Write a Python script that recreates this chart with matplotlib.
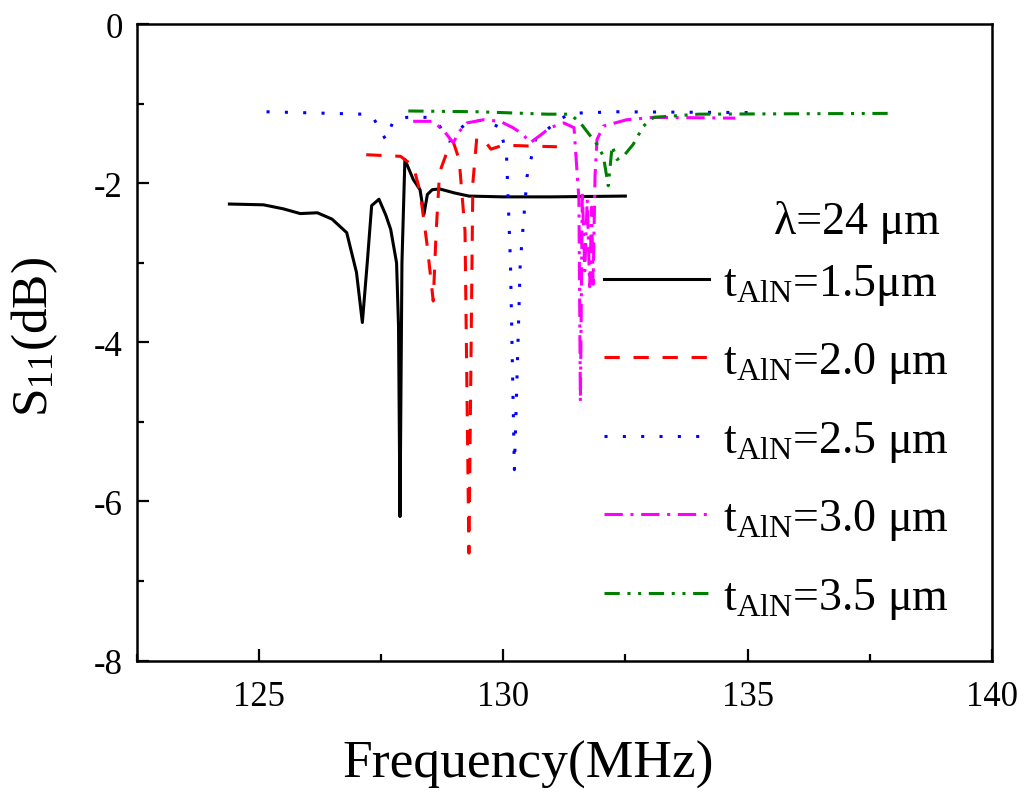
import matplotlib
matplotlib.use("Agg")
import matplotlib.pyplot as plt
from matplotlib.ticker import MultipleLocator

plt.rcParams['font.family'] = ['Liberation Serif', 'DejaVu Serif']
plt.rcParams['mathtext.fontset'] = 'custom'
plt.rcParams['mathtext.rm'] = 'Liberation Serif'
plt.rcParams['mathtext.it'] = 'Liberation Serif:italic'
plt.rcParams['mathtext.bf'] = 'Liberation Serif:bold'
plt.rcParams['axes.unicode_minus'] = False

# ---- data ----
black_f = [124.4, 125.1, 125.5, 125.85, 126.2, 126.5, 126.8, 127.0, 127.12, 127.22, 127.31,
           127.46, 127.6, 127.7, 127.82, 127.86, 127.89, 127.93, 127.99, 128.16, 128.3, 128.38,
           128.45, 128.55, 128.7, 129.0, 129.3, 130.0, 131.0, 132.5]
black_s = [-2.26, -2.27, -2.32, -2.38, -2.37, -2.45, -2.62, -3.12, -3.75, -3.0, -2.28,
           -2.20, -2.40, -2.58, -3.0, -3.8, -6.19, -3.0, -1.70, -1.95, -2.08, -2.39,
           -2.14, -2.08, -2.07, -2.12, -2.16, -2.17, -2.17, -2.16]

red_f = [127.2, 127.9, 128.16, 128.3, 128.45, 128.57, 128.63, 128.7, 128.85, 128.98, 129.1,
         129.22, 129.3, 129.38, 129.46, 129.6, 129.75, 130.0, 130.5, 131.1]
red_s = [-1.64, -1.66, -1.78, -2.1, -2.8, -3.48, -2.6, -1.86, -1.61, -1.48, -1.7,
         -2.6, -6.65, -2.0, -1.43, -1.45, -1.57, -1.52, -1.53, -1.54]

blue_f = [125.16, 127.13, 127.34, 127.5, 127.6, 127.75, 128.03, 128.44, 128.7, 128.9, 129.05,
          129.26, 129.6, 129.94, 130.07, 130.15, 130.23, 130.35, 130.49, 130.66, 131.1, 131.37,
          132.3, 135.0]
blue_s = [-1.10, -1.13, -1.17, -1.35, -1.45, -1.22, -1.17, -1.17, -1.28, -1.47, -1.35,
          -1.24, -1.20, -1.30, -1.66, -3.0, -5.6, -3.0, -1.91, -1.45, -1.22, -1.12,
          -1.10, -1.11]

mag_f = [128.16, 128.57, 128.8, 128.98, 129.1, 129.26, 129.6, 129.94, 130.2, 130.4, 130.55,
         130.75, 130.96, 131.24, 131.45, 131.55, 131.58, 131.62, 131.67, 131.72, 131.77, 131.81,
         131.84, 131.88, 131.92, 132.05, 132.53, 133.08, 134.75]
mag_s = [-1.22, -1.22, -1.35, -1.49, -1.35, -1.24, -1.20, -1.22, -1.30, -1.38, -1.49,
         -1.40, -1.30, -1.24, -1.30, -2.2, -4.75, -2.1, -3.1, -2.2, -3.3, -2.3,
         -3.27, -1.9, -1.45, -1.28, -1.20, -1.17, -1.18]

green_f = [128.06, 129.5, 130.9, 131.37, 131.58, 131.78, 131.92, 132.05, 132.15, 132.23, 132.33,
           132.46, 132.66, 132.87, 133.08, 134.0, 138.0]
green_s = [-1.09, -1.10, -1.13, -1.13, -1.24, -1.40, -1.51, -1.66, -2.03, -1.53, -1.70,
           -1.66, -1.51, -1.28, -1.17, -1.13, -1.12]

labels = [r'$\mathregular{t_{AlN}}$=1.5μm',
          r'$\mathregular{t_{AlN}}$=2.0 μm',
          r'$\mathregular{t_{AlN}}$=2.5 μm',
          r'$\mathregular{t_{AlN}}$=3.0 μm',
          r'$\mathregular{t_{AlN}}$=3.5 μm']
x_ticks = [125, 130, 135, 140]
y_ticks = [0, -2, -4, -6, -8]

# ---- figure ----
fig = plt.figure(figsize=(10.24, 8.03), dpi=100)
ax = fig.add_axes([136.5/1024, 1 - 661.5/803, (992 - 136.5)/1024, (661.5 - 25.3)/803])

lw = 2.2
ax.plot(black_f, black_s, color='black', lw=lw, linestyle='-', label=labels[0])
ax.plot(red_f, red_s, color='#FF0000', lw=lw, linestyle=(0, (5, 4.5)), label=labels[1])
ax.plot(blue_f, blue_s, color='#0000FF', lw=lw, linestyle=(0, (1, 5)), label=labels[2])
ax.plot(mag_f, mag_s, color='#FF00FF', lw=lw, linestyle=(0, (6, 2.5, 1, 2.5)), label=labels[3])
ax.plot(green_f, green_s, color='#008000', lw=lw,
        linestyle=(0, (5, 2.5, 1, 2.5, 1, 2.5)), label=labels[4])

ax.set_xlim(122.5, 140)
ax.set_ylim(-8, 0)
ax.set_xticks(x_ticks)
ax.set_yticks(y_ticks)
ax.xaxis.set_minor_locator(MultipleLocator(2.5))
ax.yaxis.set_minor_locator(MultipleLocator(1))
ax.tick_params(which='both', direction='in', top=False, right=False, width=1.6,
               labelsize=25)
ax.tick_params(which='major', length=8.5)
ax.tick_params(which='minor', length=5)
ax.tick_params(axis='x', which='major', pad=14)
ax.tick_params(axis='y', which='major', pad=10)
for sp in ax.spines.values():
    sp.set_linewidth(1.8)

ax.set_xlabel('Frequency(MHz)', fontsize=38.5)
ax.set_ylabel(r'$\mathregular{S_{11}}$(dB)', fontsize=37)
ax.xaxis.set_label_coords(0.458, -0.125)
ax.yaxis.set_label_coords(-0.089, 0.51)

ax.text(940/1024, 1 - 222/803, 'λ=24 μm', transform=fig.transFigure,
        fontsize=33, ha='right', va='center')

leg = ax.legend(loc='upper left', bbox_to_anchor=(604/1024, 1 - 263/803),
                bbox_transform=fig.transFigure, frameon=False, fontsize=33,
                handlelength=2.3, handletextpad=0.3, labelspacing=0.73,
                borderpad=0, borderaxespad=0)

fig.savefig('out.png', dpi=100)
